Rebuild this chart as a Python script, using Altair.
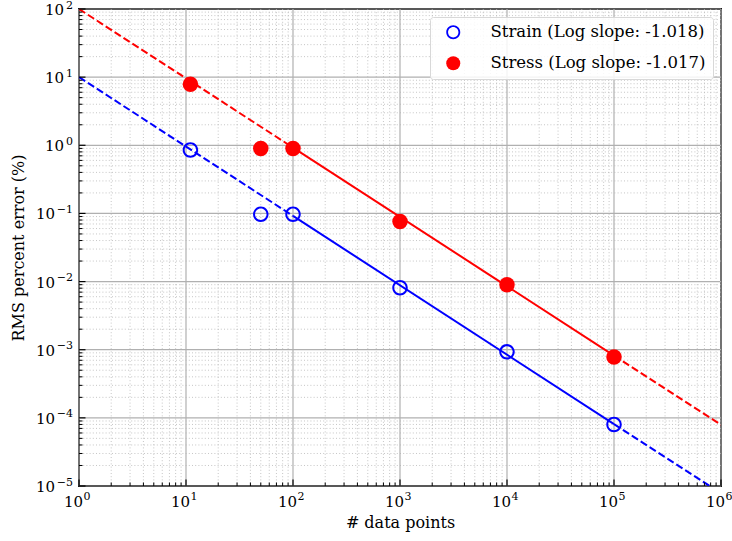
import altair as alt
import pandas as pd

# ---- data ----
n_points = [11, 50, 100, 1000, 10000, 100000]
strain_err = [0.85, 0.097, 0.097, 0.0081, 0.00093, 0.00008]
stress_err = [7.85, 0.90, 0.90, 0.076, 0.0090, 0.00078]

series_names = ["Strain (Log slope: -1.018)", "Stress (Log slope: -1.017)"]

# fitted power-law lines (end points of dashed / solid / dashed pieces)
fit_x = [1, 100, 100000, 1000000]
strain_fit = [10.0, 0.092, 0.000081, 0.0000078]
stress_fit = [100.0, 0.925, 0.00082, 0.000079]
fit_style = ["dashed", "solid", "dashed"]

x_major = [1, 10, 100, 1000, 10000, 100000, 1000000]
y_major = [1e-5, 1e-4, 1e-3, 1e-2, 1e-1, 1, 10, 100]
x_minor = [k * 10 ** e for e in range(0, 6) for k in range(2, 10)]
y_minor = [k * 10.0 ** e for e in range(-5, 2) for k in range(2, 10)]

W, H = 642, 477
FONT = "DejaVu Serif"
BLUE, RED = "#0000ff", "#ff0000"
BASE_FS, EXP_FS = 15, 11

# open ring (hollow marker) and disc as symbol shapes
RING = ("M 1 0 A 1 1 0 1 1 -1 0 A 1 1 0 1 1 1 0 Z "
        "M 0.74 0 A 0.74 0.74 0 1 0 -0.74 0 A 0.74 0.74 0 1 0 0.74 0 Z")

pts = pd.DataFrame(
    {"n": n_points * 2,
     "err": strain_err + stress_err,
     "series": [series_names[0]] * len(n_points) + [series_names[1]] * len(n_points)}
)

rows = []
for name, yv in zip(series_names, [strain_fit, stress_fit]):
    for i, st in enumerate(fit_style):
        for j in (i, i + 1):
            rows.append({"series": name, "seg": f"{name}-{i}", "style": st,
                         "x": fit_x[j], "y": yv[j]})
fit = pd.DataFrame(rows)

xs = alt.Scale(type="log", domain=[1, 1e6], nice=False)
ys = alt.Scale(type="log", domain=[1e-5, 100], nice=False)

x_axis = alt.Axis(values=x_major, labels=False, grid=False, ticks=False, domain=False,
                  title="# data points", titleFont=FONT, titleFontSize=16,
                  titleFontWeight="normal", titleColor="black",
                  titleBaseline="alphabetic", titleY=41)
y_axis = alt.Axis(values=y_major, labels=False, grid=False, ticks=False, domain=False,
                  title="RMS percent error (%)", titleFont=FONT, titleFontSize=16,
                  titleFontWeight="normal", titleColor="black",
                  titleBaseline="alphabetic", titleX=-56)

xminor_df = pd.DataFrame({"v": x_minor})
yminor_df = pd.DataFrame({"v": y_minor})
xmajor_df = pd.DataFrame({"v": x_major})
ymajor_df = pd.DataFrame({"v": y_major})

grid_minor_x = alt.Chart(xminor_df).mark_rule(color="#b8b8b8", strokeWidth=0.8,
                                               strokeDash=[1, 2.2]).encode(
    x=alt.X("v:Q", scale=xs, axis=x_axis))
grid_minor_y = alt.Chart(yminor_df).mark_rule(color="#b8b8b8", strokeWidth=0.8,
                                               strokeDash=[1, 2.2]).encode(
    y=alt.Y("v:Q", scale=ys, axis=y_axis))
grid_major_x = alt.Chart(xmajor_df).mark_rule(color="#b0b0b0", strokeWidth=1.2).encode(
    x=alt.X("v:Q", scale=xs))
grid_major_y = alt.Chart(ymajor_df).mark_rule(color="#b0b0b0", strokeWidth=1.2).encode(
    y=alt.Y("v:Q", scale=ys))

tick_minor_x = alt.Chart(xminor_df).mark_rule(color="black", strokeWidth=1).encode(
    x=alt.X("v:Q", scale=xs), y=alt.value(H), y2=alt.value(H - 3.5))
tick_major_x = alt.Chart(xmajor_df).mark_rule(color="black", strokeWidth=1.2).encode(
    x=alt.X("v:Q", scale=xs), y=alt.value(H), y2=alt.value(H - 6.5))
tick_minor_y = alt.Chart(yminor_df).mark_rule(color="black", strokeWidth=1).encode(
    y=alt.Y("v:Q", scale=ys), x=alt.value(0), x2=alt.value(3.5))
tick_major_y = alt.Chart(ymajor_df).mark_rule(color="black", strokeWidth=1.2).encode(
    y=alt.Y("v:Q", scale=ys), x=alt.value(0), x2=alt.value(6.5))

# tick labels "10" with a raised exponent
exp_calc = dict(e="round(log(datum.v) / LN10)")
exp_txt = "datum.e < 0 ? '\u2212' + abs(datum.e) : '' + datum.e"

x_base = alt.Chart(xmajor_df).mark_text(
    font=FONT, fontSize=BASE_FS, align="right", baseline="alphabetic", dx=4,
    color="black").encode(
    x=alt.X("v:Q", scale=xs), y=alt.value(H + 21), text=alt.value("10"))
x_exp = alt.Chart(xmajor_df).transform_calculate(**exp_calc).transform_calculate(
    t=exp_txt).mark_text(
    font=FONT, fontSize=EXP_FS, align="left", baseline="alphabetic", dx=4.5,
    color="black").encode(
    x=alt.X("v:Q", scale=xs), y=alt.value(H + 14), text="t:N")

y_base_pos = alt.Chart(ymajor_df).transform_filter(alt.datum.v >= 1).mark_text(
    font=FONT, fontSize=BASE_FS, align="right", baseline="alphabetic", dy=6,
    color="black").encode(
    y=alt.Y("v:Q", scale=ys), x=alt.value(-15), text=alt.value("10"))
y_base_neg = alt.Chart(ymajor_df).transform_filter(alt.datum.v < 1).mark_text(
    font=FONT, fontSize=BASE_FS, align="right", baseline="alphabetic", dy=6,
    color="black").encode(
    y=alt.Y("v:Q", scale=ys), x=alt.value(-24), text=alt.value("10"))
y_exp = alt.Chart(ymajor_df).transform_calculate(**exp_calc).transform_calculate(
    t=exp_txt).mark_text(
    font=FONT, fontSize=EXP_FS, align="right", baseline="alphabetic", dy=-0.5,
    color="black").encode(
    y=alt.Y("v:Q", scale=ys), x=alt.value(-6), text="t:N")

# fitted lines
line_col = alt.condition(alt.datum.series == series_names[0],
                         alt.value(BLUE), alt.value(RED))
solid = alt.Chart(fit).transform_filter(alt.datum.style == "solid").mark_line(
    strokeWidth=2, clip=True).encode(
    x=alt.X("x:Q", scale=xs), y=alt.Y("y:Q", scale=ys), stroke=line_col,
    detail="seg:N")
dashed = alt.Chart(fit).transform_filter(alt.datum.style == "dashed").mark_line(
    strokeWidth=2, strokeDash=[7.4, 3.2], clip=True).encode(
    x=alt.X("x:Q", scale=xs), y=alt.Y("y:Q", scale=ys), stroke=line_col,
    detail="seg:N")

legend = alt.Legend(title=None, orient="top-right", offset=8,
                    labelFont=FONT, labelFontSize=16.5,
                    labelColor="black", labelLimit=400,
                    symbolSize=196, symbolStrokeWidth=0,
                    symbolOffset=8, labelOffset=29,
                    padding=7, rowPadding=14,
                    fillColor="rgba(255,255,255,0.85)",
                    strokeColor="#d8d8d8", cornerRadius=3)

points = alt.Chart(pts).mark_point(filled=True, size=240, strokeWidth=0,
                                   opacity=1).encode(
    x=alt.X("n:Q", scale=xs),
    y=alt.Y("err:Q", scale=ys),
    color=alt.Color("series:N", scale=alt.Scale(domain=series_names,
                                                range=[BLUE, RED]),
                    legend=legend),
    shape=alt.Shape("series:N", scale=alt.Scale(domain=series_names,
                                                range=[RING, "circle"]),
                    legend=legend),
)

chart = alt.layer(
    grid_minor_x, grid_minor_y, grid_major_x, grid_major_y,
    dashed, solid, points,
    tick_minor_x, tick_major_x, tick_minor_y, tick_major_y,
    x_base, x_exp, y_base_pos, y_base_neg, y_exp,
).properties(
    width=W, height=H,
    autosize=alt.AutoSizeParams(type="none"),
    padding={"left": 79, "top": 9, "right": 11, "bottom": 55},
    background="white",
).configure_view(stroke="black", strokeWidth=1.8)

chart.save("out.html", embed_options={"renderer": "svg", "actions": False})
